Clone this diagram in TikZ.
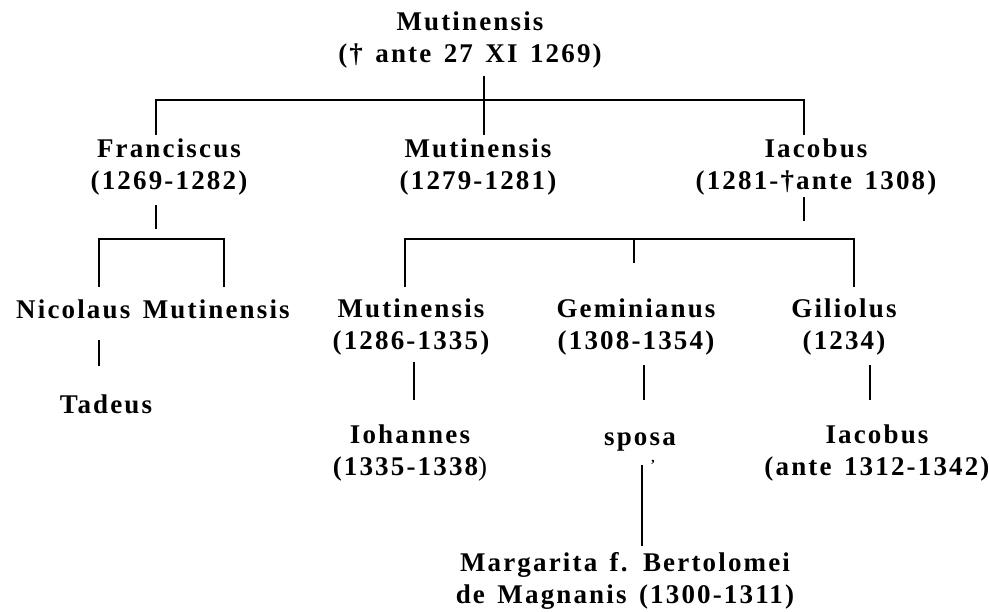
\documentclass[tikz,border=0pt]{standalone}
\usepackage{fontspec}
\setmainfont{Liberation Serif}[LetterSpace=8, WordSpace=1.4]
\begin{document}
\begin{tikzpicture}[
	x=1pt, y=-1pt,
	person/.style={align=center, inner sep=0pt, font=\bfseries\fontsize{27}{32}\selectfont},
	line/.style={line width=1.6pt},
]
\useasboundingbox (0,0) rectangle (989,612);
% \descent(name){x}{top y}{bottom y}: vertical line, ends are name-a and name-b.
\def\descent(#1)#2#3#4{
	\coordinate (#1a) at (#2,#3);
	\coordinate (#1b) at (#2,#4);
	\draw[line] (#1a) -- (#1b);
}
% \sibbar(name){left x}{right x}{bar y}{drop}: bar over the children, with a
% drop of the given length at both ends.
\def\sibbar(#1)#2#3#4#5{
	\coordinate (#1l) at (#2,#4);
	\coordinate (#1r) at (#3,#4);
	\draw[line] (#1l) ++(0,#5) -- (#1l) -- (#1r) -- ++(0,#5);
}
	\node[person] (top) at (470,40) {Mutinensis\\(† ante 27 XI 1269)};

	\node[person] (franc) at (169,167) {Franciscus\\(1269-1282)};
	\node[person] (mut2) at (478,167) {Mutinensis\\(1279-1281)};
	\node[person] (iac) at (816,167) {Iacobus\\(1281-†ante 1308)};
	\sibbar(gen1){156}{804}{100}{35}
	\descent(topstem){484}{76}{135}

	\node[person] (nicol) at (153,309) {Nicolaus Mutinensis};
	\descent(francstem){156}{205}{229}
	\sibbar(gen2a){99}{224}{239}{48}

	\node[person] (mut3) at (411,327) {Mutinensis\\(1286-1335)};
	\node[person] (gemin) at (636,327) {Geminianus\\(1308-1354)};
	\node[person] (gilio) at (844,327) {Giliolus\\(1234)};
	\descent(iacstem){804}{197}{221}
	\sibbar(gen2b){405}{854}{239}{48}
	\descent(midstem){634}{239}{263}

	\node[person] (tadeus) at (106,404) {Tadeus};
	\descent(nicolstem){99}{340}{366}

	\node[person] (iohan) at (410,453) {Iohannes\\(1335-1338{\mdseries )}};
	\node[person] (sposa) at (640,442) {sposa};
	\node[person] (iac2) at (877,453) {Iacobus\\(ante 1312-1342)};
	\descent(mutstem){414}{362}{400}
	\descent(geminstem){644}{365}{400}
	\descent(giliostem){870}{365}{400}

	\node[inner sep=0pt, font=\bfseries\fontsize{14}{14}\selectfont] (tick) at (653,465) {'};
	\node[person] (marg) at (625,581) {Margarita f. Bertolomei\\de Magnanis (1300-1311)};
	\descent(sposastem){642}{465}{546}
\end{tikzpicture}
\end{document}
